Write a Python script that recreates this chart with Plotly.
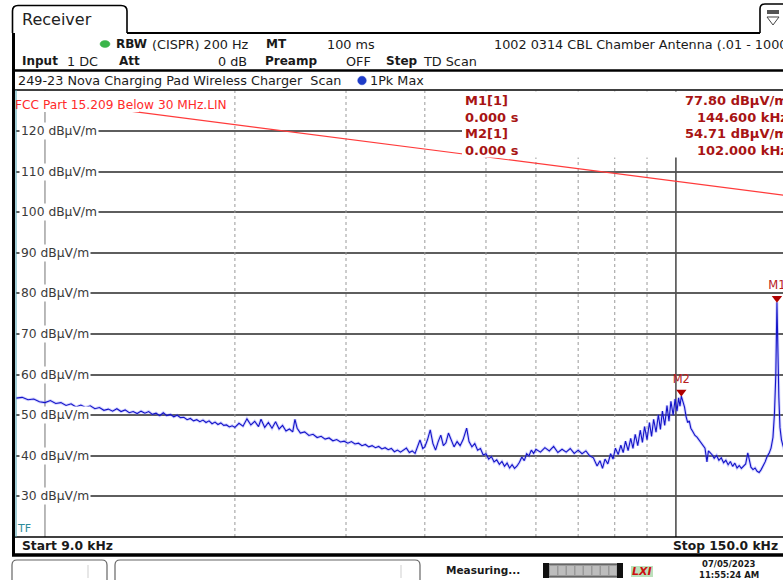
import math
import plotly.graph_objects as go

W, H = 783, 580

# ---------------- data ----------------
freq_khz = [
    9.0, 9.2, 9.4, 9.6, 9.8, 10.0, 10.2, 10.4, 10.6, 10.8, 11.0, 11.2, 11.4, 11.6, 11.8,
    12.0, 12.2, 12.4, 12.6, 12.8, 13.0, 13.2, 13.4, 13.6, 13.8, 14.0, 14.2, 14.4, 14.6, 14.8,
    15.0, 15.2, 15.4, 15.6, 15.8, 16.0, 16.2, 16.4, 16.6, 16.8, 17.0, 17.2, 17.4, 17.6, 17.8,
    18.0, 18.2, 18.4, 18.6, 18.8, 19.0, 19.2, 19.4, 19.6, 19.8, 20.0,
    20.3, 20.6, 20.9, 21.2, 21.5, 21.8, 22.0, 22.3, 22.6, 22.9, 23.2, 23.5, 23.8, 24.1, 24.4,
    24.7, 24.9, 25.1, 25.4, 25.8, 26.2, 26.6, 27.0, 27.4, 27.8, 28.2, 28.6, 29.0, 29.4, 29.8,
    30.2, 30.6, 31.0, 31.4, 31.8, 32.2, 32.6, 33.0, 33.4, 33.8, 34.2, 34.6, 35.0, 35.4, 35.8,
    36.2, 36.6, 37.0, 37.4, 37.8, 38.2, 38.6, 39.0, 39.3, 39.7, 40.0, 40.4, 40.8, 41.2, 41.6,
    42.0, 42.4, 42.8, 43.2, 43.6, 44.0, 44.5, 45.0, 45.5, 46.0, 46.6, 47.0, 47.5, 48.0, 48.5,
    49.0, 49.5, 50.0, 50.5, 51.0, 51.5, 52.0, 52.5, 53.0, 53.5, 54.0, 54.5, 55.0, 55.5, 56.0,
    56.5, 57.0, 57.5, 58.0, 58.5, 59.0, 59.5, 60.0, 61.0, 62.0, 63.0, 64.0, 65.0, 66.0, 67.0,
    68.0, 69.0, 70.0, 71.0, 72.0, 73.0, 74.0, 75.0, 75.8, 76.5, 77.2, 78.0, 78.8, 79.5, 80.2,
    81.0, 81.8, 82.5, 83.2, 84.0, 84.8, 85.5, 86.2, 87.0, 87.8, 88.5, 89.2, 90.0, 90.8, 91.5,
    92.2, 93.0, 93.8, 94.5, 95.2, 96.0, 96.8, 97.5, 98.2, 99.0, 99.7, 100.4, 101.0, 101.5, 102.0,
    102.6, 103.2, 103.8, 104.4, 105.0, 105.6, 106.4, 107.2, 108.0, 108.8, 109.6, 110.4, 111.2, 112.0, 112.6,
    113.4, 114.2, 115.0, 116.0, 117.0, 118.0, 119.0, 120.0, 121.0, 122.0, 123.0, 124.0, 125.0, 126.0, 127.0,
    128.0, 129.0, 130.0, 130.7, 131.5, 132.5, 133.5, 134.5, 135.5, 136.5, 137.5, 138.5, 139.5, 140.5, 141.5,
    142.5, 143.3, 144.0, 144.6, 145.0, 145.6, 146.2, 147.0, 147.8, 148.5,
]
level_dbuv = [
    54.2, 54.4, 53.8, 54.0, 53.3, 53.1, 53.6, 52.9, 53.1, 52.4, 52.8, 52.0, 52.5, 51.9, 52.3,
    51.6, 51.9, 51.2, 51.5, 51.0, 51.6, 50.9, 51.3, 50.6, 50.9, 50.4, 51.0, 50.5, 50.9, 50.2,
    50.5, 49.9, 50.6, 49.9, 50.2, 49.6, 50.0, 49.4, 49.5, 48.9, 49.2, 48.6, 48.9, 48.4, 48.8,
    48.2, 48.6, 47.9, 48.3, 47.7, 48.1, 47.5, 47.6, 47.1, 47.4, 47.0,
    48.0, 47.3, 49.1, 47.6, 48.5, 47.2, 49.0, 47.0, 48.2, 46.8, 48.4, 46.6, 47.5, 46.1, 46.6,
    45.9, 49.0, 46.8, 45.6, 45.9, 45.0, 45.3, 44.5, 44.8, 44.1, 44.4, 43.7, 44.0, 43.4, 43.6,
    43.1, 43.5, 42.9, 43.1, 42.5, 42.8, 42.2, 42.5, 42.0, 42.3, 41.7, 42.0, 41.5, 41.8, 41.0,
    41.4, 40.9, 41.5, 41.9, 40.8, 41.2, 40.6, 42.5, 43.9, 41.8, 42.2, 44.0, 46.4, 43.0, 41.4,
    43.5, 45.1, 42.5, 43.2, 45.6, 44.0, 42.2, 43.5, 42.5, 44.0, 46.8, 43.5, 42.2, 43.0, 41.4,
    41.8, 40.2, 40.5, 39.2, 39.8, 38.5, 39.0, 37.9, 38.6, 37.4, 38.2, 37.0, 37.8, 36.9, 37.5,
    38.4, 39.7, 38.8, 40.5, 40.0, 41.4, 40.6, 41.6, 40.9, 42.0, 41.2, 42.3, 40.8, 41.6, 40.9,
    41.8, 40.6, 41.4, 40.5, 41.2, 40.0, 39.5, 37.5, 38.8, 36.9, 39.2, 38.0, 40.5, 39.2, 41.9,
    40.3, 42.6, 40.8, 43.6, 41.3, 44.3, 41.8, 45.3, 42.5, 46.3, 43.3, 47.2, 44.0, 48.2, 44.8,
    49.0, 45.8, 50.1, 46.5, 51.0, 47.5, 52.4, 48.5, 53.4, 50.0, 54.0, 51.0, 54.3, 52.2, 54.71,
    53.6, 52.0, 49.6, 48.2, 48.6, 46.8, 45.9, 45.0, 44.6, 43.9, 43.0, 42.6, 41.9, 38.5, 41.2,
    40.7, 40.2, 39.4, 40.1, 38.9, 39.5, 38.3, 38.9, 37.8, 38.6, 37.4, 38.2, 37.0, 37.6, 36.9,
    37.5, 38.0, 40.7, 39.0, 37.2, 36.6, 37.0, 36.2, 35.9, 36.6, 37.4, 38.5, 39.8, 40.6, 41.9,
    44.5, 50.5, 60.0, 77.8, 65.0, 54.5, 47.0, 43.9, 42.5, 41.5,
]
limit_freq_khz = [9.0, 150.0]
limit_dbuv = [128.52, 104.08]
marker_names = ["M1", "M2"]
marker_freq_khz = [144.6, 102.0]
marker_level = [77.80, 54.71]
y_tick_values = [30, 40, 50, 60, 70, 80, 90, 100, 110, 120]
dotted_grid_khz = [20, 30, 40, 50, 60, 70, 80, 90]
decade_grid_khz = [10, 100]
start_khz, stop_khz = 9.0, 150.0

# ---------------- helpers ----------------
def px(x):
    return x / W

def py(y):
    return 1 - y / H

FONT = "DejaVu Sans"
DARKRED = "#a81414"
HF = 12.8   # header font size
HB = 12.0   # header bold font size

x_left_px, x_stop_px = 16.1, 787.0
lg0 = math.log10(start_khz)
lg_per_px = (math.log10(stop_khz) - lg0) / (x_stop_px - x_left_px)
x_range = [lg0, lg0 + (W - x_left_px) * lg_per_px]

fig = go.Figure()

# vertical grid lines
vx, vy = [], []
for f in dotted_grid_khz:
    vx += [f, f, None]
    vy += [20, 130, None]
fig.add_trace(go.Scatter(x=vx, y=vy, mode="lines",
                         line=dict(color="#9a9a9a", width=1, dash="dot"),
                         hoverinfo="skip", showlegend=False))
fig.add_trace(go.Scatter(x=[decade_grid_khz[0]] * 2, y=[20, 130], mode="lines",
                         line=dict(color="#8a8a8a", width=1.2),
                         hoverinfo="skip", showlegend=False))
fig.add_trace(go.Scatter(x=[decade_grid_khz[1]] * 2, y=[20, 130], mode="lines",
                         line=dict(color="#505050", width=1.6),
                         hoverinfo="skip", showlegend=False))

# trace halo + trace
fig.add_trace(go.Scatter(x=freq_khz, y=level_dbuv, mode="lines",
                         line=dict(color="rgba(110,110,255,0.3)", width=3),
                         hoverinfo="skip", showlegend=False))
fig.add_trace(go.Scatter(x=freq_khz, y=level_dbuv, mode="lines",
                         line=dict(color="#1414c8", width=1.1),
                         name="1Pk Max", showlegend=False))

# limit line
fig.add_trace(go.Scatter(x=limit_freq_khz, y=limit_dbuv, mode="lines",
                         line=dict(color="#ff3b3b", width=1.2),
                         name="FCC Part 15.209", showlegend=False))

# markers
fig.add_trace(go.Scatter(
    x=marker_freq_khz, y=[v + 1.0 for v in marker_level],
    mode="markers+text", text=marker_names, textposition="top center",
    textfont=dict(family=FONT, size=11.5, color="#b82020"),
    marker=dict(symbol="triangle-down", size=9, color="#b00000"),
    hoverinfo="skip", showlegend=False))

plot_top, plot_bottom = 90.4, 537.0

fig.update_layout(
    width=W, height=H,
    margin=dict(l=0, r=0, t=0, b=0),
    paper_bgcolor="white", plot_bgcolor="white",
    showlegend=False,
    xaxis=dict(type="log", range=x_range, domain=[px(x_left_px), 1.0],
               showgrid=False, zeroline=False, showticklabels=False, ticks="",
               showline=False, fixedrange=True),
    yaxis=dict(range=[20, 130], domain=[py(plot_bottom), py(plot_top)],
               tick0=0, dtick=10, showgrid=True, gridcolor="#5e5e5e", gridwidth=1.6,
               zeroline=False, showticklabels=False, ticks="", showline=False,
               fixedrange=True),
)

ann = []
def text(x, y, s, size=HF, color="#1a1a1a", bold=False, anchor="left", bg=None, yanchor="middle"):
    t = "<b>%s</b>" % s if bold else s
    d = dict(x=px(x), y=py(y), xref="paper", yref="paper", text=t, showarrow=False,
             xanchor=anchor, yanchor=yanchor,
             font=dict(family=FONT, size=size, color=color), borderpad=0)
    if bg:
        d["bgcolor"] = bg
    ann.append(d)

for v in y_tick_values:
    ann.append(dict(x=px(19), y=v, xref="paper", yref="y", text="%d dBµV/m" % v,
                    showarrow=False, xanchor="left", yanchor="middle",
                    font=dict(family=FONT, size=12.3, color="#3a3a3a"),
                    bgcolor="white", borderpad=1))

text(14, 105, "FCC Part 15.209 Below 30 MHz.LIN", size=12.2, color="#ff2a2a")

MF = 13
text(464, 100, "M1[1]", size=MF, color=DARKRED, bold=True)
text(464, 117, "0.000 s", size=MF, color=DARKRED, bold=True)
text(464, 133.5, "M2[1]", size=MF, color=DARKRED, bold=True)
text(464, 150.5, "0.000 s", size=MF, color=DARKRED, bold=True)
text(789, 100, "%.2f dBµV/m" % marker_level[0], size=MF, color=DARKRED, bold=True, anchor="right")
text(789, 117, "%.3f kHz" % marker_freq_khz[0], size=MF, color=DARKRED, bold=True, anchor="right")
text(789, 133.5, "%.2f dBµV/m" % marker_level[1], size=MF, color=DARKRED, bold=True, anchor="right")
text(789, 150.5, "%.3f kHz" % marker_freq_khz[1], size=MF, color=DARKRED, bold=True, anchor="right")

text(16, 528, "TF", size=11, color="#2e8c9a")

text(21, 19, "Receiver", size=16, color="#222")
text(115, 44, "RBW", size=HB, bold=True)
text(151, 44, "(CISPR) 200 Hz")
text(265, 44, "MT", size=HB, bold=True)
text(326, 44, "100 ms")
text(493, 44, "1002 0314 CBL Chamber Antenna (.01 - 1000")
text(21, 61, "Input", size=HB, bold=True)
text(66, 61, "1 DC")
text(118, 61, "Att", size=HB, bold=True)
text(248, 61, "0 dB", anchor="right")
text(264, 61, "Preamp", size=HB, bold=True)
text(345, 61, "OFF")
text(385, 61, "Step", size=HB, bold=True)
text(422, 61, "TD Scan")
text(17, 80, "249-23 Nova Charging Pad Wireless Charger  Scan")
text(369, 80, "1Pk Max")

text(21, 546, "Start %.1f kHz" % start_khz, size=12.3, bold=True)
text(779, 546, "Stop %.1f kHz" % stop_khz, size=12.3, bold=True, anchor="right")
text(445, 570, "Measuring...", size=10.5, bold=True)
text(729, 564, "07/05/2023", size=8.5, bold=True, anchor="center")
text(729, 575, "11:55:24 AM", size=8.5, bold=True, anchor="center")
text(642, 571, "<i>LXI</i>", size=11, color="#cc1010", bold=True, anchor="center")

fig.update_layout(annotations=ann)

# ---------------- frame shapes ----------------
shapes = []
def line(x0, y0, x1, y1, w=1.5, c="black"):
    shapes.append(dict(type="line", xref="paper", yref="paper",
                       x0=px(x0), y0=py(y0), x1=px(x1), y1=py(y1),
                       line=dict(color=c, width=w), layer="above"))
def rect(x0, y0, x1, y1, fill="white", lc="rgba(0,0,0,0)", w=0):
    shapes.append(dict(type="rect", xref="paper", yref="paper",
                       x0=px(x0), y0=py(y0), x1=px(x1), y1=py(y1),
                       fillcolor=fill, line=dict(color=lc, width=w), layer="above"))
def circle(cx, cy, rx, ry, fill):
    shapes.append(dict(type="circle", xref="paper", yref="paper",
                       x0=px(cx - rx), y0=py(cy - ry), x1=px(cx + rx), y1=py(cy + ry),
                       fillcolor=fill, line=dict(color=fill, width=0.5), layer="above"))
def path(d, lc="black", w=1.5, fill="rgba(0,0,0,0)"):
    shapes.append(dict(type="path", xref="paper", yref="paper", path=d,
                       line=dict(color=lc, width=w), fillcolor=fill, layer="above"))
def P(x, y):
    return "%f,%f" % (px(x), py(y))

# marker table white box and limit-label white box
rect(462, 91.5, 783, 157.5)
rect(14, 91, 139, 112)
# header area white
rect(0, 0, 783, 90)

# tab
path("M " + P(12.5, 33) + " L " + P(12.5, 11) + " Q " + P(12.5, 5.5) + " " + P(18, 5.5) +
     " L " + P(121, 5.5) + " Q " + P(127, 5.5) + " " + P(127, 11) + " L " + P(127, 33), w=1.6)
line(127, 33, 760, 33, 2)
# top-right icon
path("M " + P(760, 33) + " L " + P(760, 9) + " Q " + P(760, 4) + " " + P(765, 4) +
     " L " + P(783, 4), w=1.6)
rect(767, 10, 779, 14, fill="#555")
path("M " + P(767, 17) + " L " + P(779, 17) + " L " + P(773, 25) + " Z", lc="#444", w=1)

circle(105, 44, 5, 3.5, "#3bb54a")
circle(362, 80.5, 4.3, 4.3, "#1e3cc8")

line(13.5, 33, 13.5, 556, 3)
line(13, 70.5, 783, 70.5, 2.5)
line(14, 90, 783, 90, 1.5)
line(14, 537, 783, 537, 1.5)
line(12, 555, 783, 555, 3.5)
line(16, 90, 16, 537, 1, "#4aa0b0")

path("M " + P(12, 582) + " L " + P(12, 565) + " Q " + P(12, 560) + " " + P(17, 560) +
     " L " + P(102, 560) + " Q " + P(107, 560) + " " + P(107, 565) + " L " + P(107, 582),
     lc="#666", w=1.2)
line(88, 565, 88, 578, 1, "#cfcfcf")
path("M " + P(115, 582) + " L " + P(115, 565) + " Q " + P(115, 560) + " " + P(120, 560) +
     " L " + P(415, 560) + " Q " + P(420, 560) + " " + P(420, 565) + " L " + P(420, 582),
     lc="#666", w=1.2)
line(401, 565, 401, 578, 1, "#cfcfcf")

rect(545, 564, 621, 577, fill="#9a9a9a", lc="#333", w=1)
for i in range(8):
    x0 = 550 + i * 8.5
    rect(x0, 566, x0 + 7, 575, fill="#bdbdbd")
rect(543, 563, 549, 578, fill="#111")
rect(617, 563, 623, 578, fill="#111")
rect(631, 566, 653, 577, fill="rgba(60,170,60,0.35)")

fig.update_layout(shapes=shapes)

fig.write_html("out.html", config={"displayModeBar": False},
               post_script="document.body.style.margin='0';document.body.style.overflow='hidden';")
